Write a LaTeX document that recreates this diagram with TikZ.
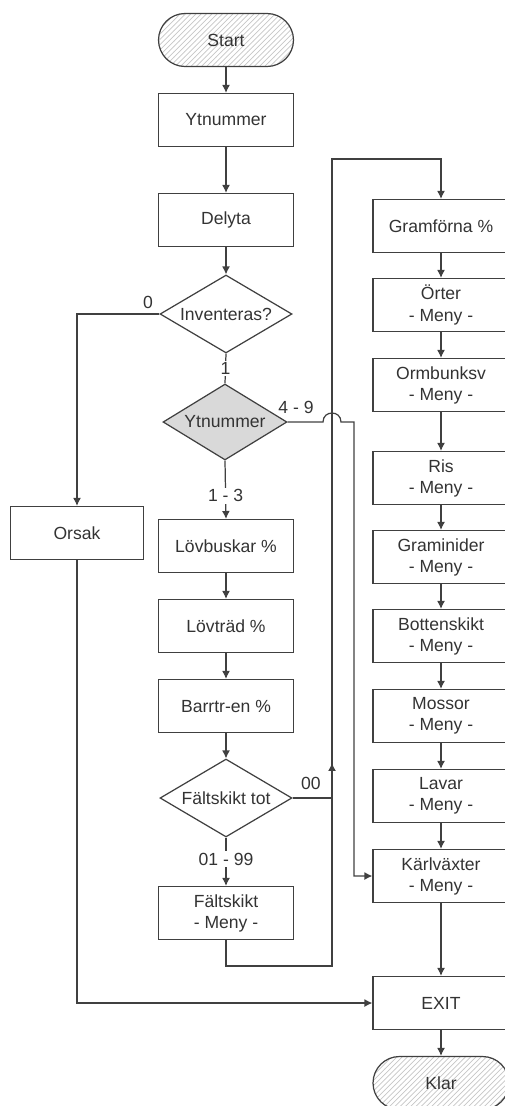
\documentclass[tikz,border=0pt]{standalone}
\usepackage{fontspec}
\setmainfont{Liberation Sans}
\usetikzlibrary{shapes.geometric,patterns,arrows.meta}
\definecolor{linegray}{HTML}{404040}
\definecolor{textgray}{HTML}{333333}
\definecolor{decfill}{HTML}{D9D9D9}
\tikzset{
	flow/.style = {draw = linegray, line width = 0.7pt, text = textgray, font = \fontsize{10}{12}\selectfont, align = center},
	box/.style = {flow, rectangle, minimum width = 2.7cm, minimum height = 1.06cm, inner sep = 0pt},
	colbox/.style = {box, minimum width = 2.72cm},
	decision/.style = {flow, diamond, aspect = 1.7, inner sep = 0pt, minimum width = 2.64cm, minimum height = 1.56cm},
	terminal/.style = {flow, rectangle, rounded corners = 0.53cm, minimum width = 2.7cm, minimum height = 1.06cm, pattern = north east lines, pattern color = gray!45},
	conn/.style = {draw = linegray, line width = 0.7pt},
	arr/.style = {conn, -{Latex[length = 4.5pt, width = 4.5pt]}},
	lbl/.style = {text = textgray, font = \fontsize{10}{12}\selectfont, fill = white, inner sep = 1pt}
}
\begin{document}
\begin{tikzpicture} [x = 0.02cm, y = -0.02cm]
	\useasboundingbox (0,0) rectangle (504,1106);
	% main column
	\node [terminal] (start) at (226,40) {Start};
	\node [box] (ytnr) at (226,120) {Ytnummer};
	\node [box] (delyta) at (226,220) {Delyta};
	\node [decision] (inv) at (226,314) {Inventeras?};
	\node [decision, fill = decfill, minimum width = 2.48cm, minimum height = 1.52cm] (ytdec) at (225,422) {Ytnummer};
	\node [box, minimum width = 2.66cm] (orsak) at (77,533) {Orsak};
	\node [box] (lovb) at (226,546) {Lövbuskar \%};
	\node [box] (lovtr) at (226,626) {Lövträd \%};
	\node [box] (barr) at (226,706) {Barrtr-en \%};
	\node [decision] (falttot) at (226,798) {Fältskikt tot};
	\node [box] (faltsk) at (226,913) {Fältskikt\\- Meny -};
	% right column
	\node [colbox] (gram) at (441,226) {Gramförna \%};
	\node [colbox] (orter) at (441,305) {Örter\\- Meny -};
	\node [colbox] (ormb) at (441,385) {Ormbunksv\\- Meny -};
	\node [colbox] (ris) at (441,478) {Ris\\- Meny -};
	\node [colbox] (gramin) at (441,557) {Graminider\\- Meny -};
	\node [colbox] (botten) at (441,636) {Bottenskikt\\- Meny -};
	\node [colbox] (mossor) at (441,716) {Mossor\\- Meny -};
	\node [colbox] (lavar) at (441,796) {Lavar\\- Meny -};
	\node [colbox] (karl) at (441,876) {Kärlväxter\\- Meny -};
	\node [colbox] (exit) at (441,1003) {EXIT};
	\node [terminal, minimum width = 2.72cm] (klar) at (441,1083) {Klar};
	% connectors
	\draw [arr] (start) -- (ytnr);
	\draw [arr] (ytnr) -- (delyta);
	\draw [arr] (delyta) -- (inv);
	\draw [conn] (inv.south) -- (ytdec.north) node [lbl, midway] {1};
	\draw [arr] (inv.west) -| (orsak.north);
	\node [text = textgray, font = \fontsize{10}{12}\selectfont] (nolla) at (148,302) {0};
	\draw [arr] (ytdec.south) -- (lovb.north) node [lbl, pos = 0.6] {1 - 3};
	\draw [arr] (lovb) -- (lovtr);
	\draw [arr] (lovtr) -- (barr);
	\draw [arr] (barr) -- (falttot);
	\draw [arr] (falttot.south) -- (faltsk.north) node [lbl, pos = 0.45] {01 - 99};
	\coordinate (loopbot) at (332,966);
	\coordinate (looptop) at (332,159);
	\draw [arr] (faltsk.south) |- (loopbot) -- (looptop) -| (gram.north);
	\coordinate (merge) at (332,798);
	\coordinate (mergeup) at (332,763);
	\draw [conn] (falttot.east) -- (merge);
	\draw [arr] (merge) -- (mergeup);
	\node [text = textgray, font = \fontsize{10}{12}\selectfont] (dubbel) at (311,783) {00};
	\coordinate (jumpa) at (323,422);
	\coordinate (jumpb) at (341,422);
	\coordinate (bend) at (354,422);
	\draw [arr] (ytdec.east) -- (jumpa) .. controls (323,410) and (341,410) .. (jumpb) -- (bend) |- (karl.west);
	\node [text = textgray, font = \fontsize{10}{12}\selectfont] (fyra) at (296,407) {4 - 9};
	\draw [arr] (gram) -- (orter);
	\draw [arr] (orter) -- (ormb);
	\draw [arr] (ormb) -- (ris);
	\draw [arr] (ris) -- (gramin);
	\draw [arr] (gramin) -- (botten);
	\draw [arr] (botten) -- (mossor);
	\draw [arr] (mossor) -- (lavar);
	\draw [arr] (lavar) -- (karl);
	\draw [arr] (karl) -- (exit);
	\draw [arr] (exit) -- (klar);
	\draw [arr] (orsak.south) |- (exit.west);
\end{tikzpicture}
\end{document}
